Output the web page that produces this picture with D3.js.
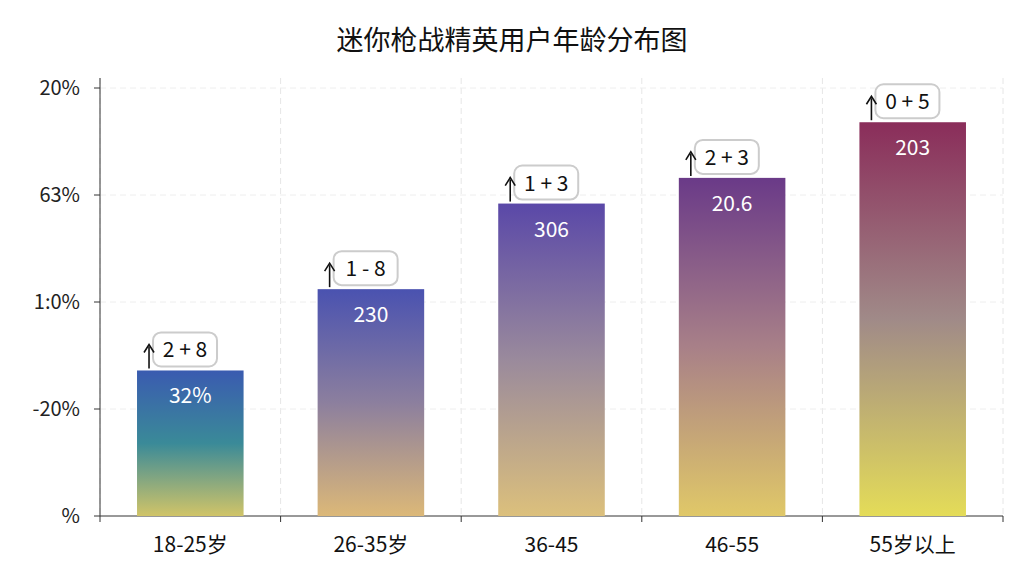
<!DOCTYPE html>
<html><head><meta charset="utf-8">
<script src="https://cdn.jsdelivr.net/npm/d3@7"></script>
<style>body{margin:0;background:#fff}text{font-family:"Noto Sans CJK SC","Noto Sans",sans-serif}</style>
</head><body><svg id="c" width="1024" height="576"></svg>
<script>
const categories=["18-25岁","26-35岁","36-45","46-55","55岁以上"];
const values=[34,53,73,79,92];
const innerLabels=["32%","230","306","20.6","203"];
const topLabels=["2 + 8","1 - 8","1 + 3","2 + 3","0 + 5"];
const tickValues=[0,25,50,75,100];
const tickLabels=["%","-20%","1:0%","63%","20%"];
const topColors=["#3a5bb0","#4a52b0","#5a48a8","#6a3a88","#8a2d5a"];
const midColors=["#3a8a98","#8c7f9e","#9a8a9c","#a88088","#a08a88"];
const botColors=["#d0c468","#dcb878","#dcc07c","#e0c868","#e4dc58"];

const svg=d3.select("#c");
const m={l:100,r:1003,t:88,b:516};
const x=d3.scaleBand().domain(categories).range([m.l,m.r]).paddingInner(0.41).paddingOuter(0.205);
const y=d3.scaleLinear().domain([0,100]).range([m.b,m.t]);
const defs=svg.append("defs");
categories.forEach((c,i)=>{
 const g=defs.append("linearGradient").attr("id","g"+i).attr("x1",0).attr("y1",0).attr("x2",0).attr("y2",1);
 g.append("stop").attr("offset","0%").attr("stop-color",topColors[i]);
 g.append("stop").attr("offset","50%").attr("stop-color",midColors[i]);
 g.append("stop").attr("offset","100%").attr("stop-color",botColors[i]);
});
const bounds=d3.range(categories.length+1).map(i=>m.l+i*(m.r-m.l)/categories.length);
svg.selectAll(".vg").data(bounds).enter().append("line").attr("x1",d=>d).attr("x2",d=>d).attr("y1",m.t-10).attr("y2",m.b).attr("stroke","#e6e6e6").attr("stroke-dasharray","6,4");
svg.selectAll(".hg").data(tickValues.slice(1)).enter().append("line").attr("x1",m.l).attr("x2",m.r).attr("y1",d=>y(d)).attr("y2",d=>y(d)).attr("stroke","#eeeeee").attr("stroke-dasharray","6,4");
svg.append("text").attr("x",512).attr("y",50).attr("text-anchor","middle").attr("font-size",27).attr("font-weight",400).attr("fill","#111").text("迷你枪战精英用户年龄分布图");
svg.append("line").attr("x1",m.l).attr("x2",m.l).attr("y1",m.t-10).attr("y2",m.b).attr("stroke","#333");
svg.selectAll(".yt").data(tickValues).enter().append("text").attr("x",80).attr("y",d=>y(d)+7).attr("text-anchor","end").attr("font-size",20).attr("fill","#222").text((d,i)=>tickLabels[i]);
svg.selectAll(".ytk").data(tickValues).enter().append("line").attr("x1",m.l-6).attr("x2",m.l).attr("y1",d=>y(d)).attr("y2",d=>y(d)).attr("stroke","#333");
svg.append("line").attr("x1",m.l).attr("x2",m.r).attr("y1",m.b).attr("y2",m.b).attr("stroke","#333");
svg.selectAll(".xtk").data(bounds).enter().append("line").attr("x1",d=>d).attr("x2",d=>d).attr("y1",m.b).attr("y2",m.b+6).attr("stroke","#333");
svg.selectAll(".xl").data(categories).enter().append("text").attr("x",d=>x(d)+x.bandwidth()/2).attr("y",552).attr("text-anchor","middle").attr("font-size",21).attr("fill","#111").text(d=>d);
svg.selectAll(".bar").data(values).enter().append("rect").attr("x",(d,i)=>x(categories[i])).attr("width",x.bandwidth()).attr("y",d=>y(d)).attr("height",d=>m.b-y(d)).attr("fill",(d,i)=>`url(#g${i})`);
svg.selectAll(".il").data(values).enter().append("text").attr("x",(d,i)=>x(categories[i])+x.bandwidth()/2).attr("y",d=>y(d)+33).attr("text-anchor","middle").attr("font-size",21).attr("fill","#fff").text((d,i)=>innerLabels[i]);
const tl=svg.selectAll(".tl").data(values).enter().append("g").attr("transform",(d,i)=>`translate(${x(categories[i])},${y(d)})`);
tl.append("rect").attr("x",16).attr("y",-38).attr("width",64).attr("height",34).attr("rx",8).attr("fill","#fff").attr("stroke","#ccc").attr("stroke-width",2);
tl.append("text").attr("x",48).attr("y",-13).attr("text-anchor","middle").attr("font-size",21).attr("fill","#111").text((d,i)=>topLabels[i]);
tl.append("line").attr("x1",12).attr("x2",12).attr("y1",-2).attr("y2",-24).attr("stroke","#111").attr("stroke-width",1.6);
tl.append("path").attr("d","M7,-18 L12,-26 L17,-18").attr("fill","none").attr("stroke","#111").attr("stroke-width",1.6);
</script></body></html>
